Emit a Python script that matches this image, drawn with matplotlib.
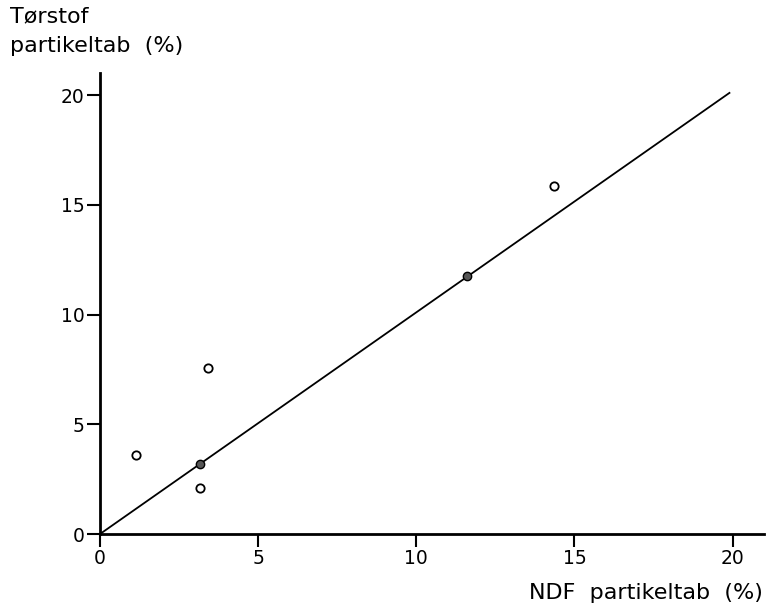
import numpy as np
import matplotlib.pyplot as plt

# aflæste værdier
ndf_aaben = [1.15, 3.15, 3.4, 14.35]
ts_aaben = [3.6, 2.1, 7.55, 15.85]
ndf_fyldt = [3.15, 11.6]
ts_fyldt = [3.2, 11.75]
linje_x = [0, 19.9]
linje_y = [0, 20.1]
ticks = [0, 5, 10, 15, 20]

fig = plt.figure(figsize=(7.67, 6.08), dpi=100)
ax = fig.add_axes([0.1304, 0.1217, 0.866, 0.758])

ax.plot(linje_x, linje_y, color='black', lw=1.3)
ax.plot(ndf_aaben, ts_aaben, 'o', ms=6, mfc='white', mec='black', mew=1.3)
ax.plot(ndf_fyldt, ts_fyldt, 'o', ms=6, mfc='#555555', mec='black', mew=1.0)

ax.set_xlim(0, 21)
ax.set_ylim(0, 21)
ax.set_xticks(ticks)
ax.set_yticks(ticks)
ax.tick_params(direction='out', length=9.5, width=1.5, labelsize=13.5, pad=1.5)
for s in ['top', 'right']:
    ax.spines[s].set_visible(False)
for s in ['left', 'bottom']:
    ax.spines[s].set_linewidth(2)

fig.text(0.013, 0.99, 'Tørstof\npartikeltab  (%)', ha='left', va='top',
         fontsize=16, linespacing=1.65)
fig.text(0.995, 0.025, 'NDF  partikeltab  (%)', ha='right', va='center',
         fontsize=16)

fig.savefig('out.png', dpi=100)
